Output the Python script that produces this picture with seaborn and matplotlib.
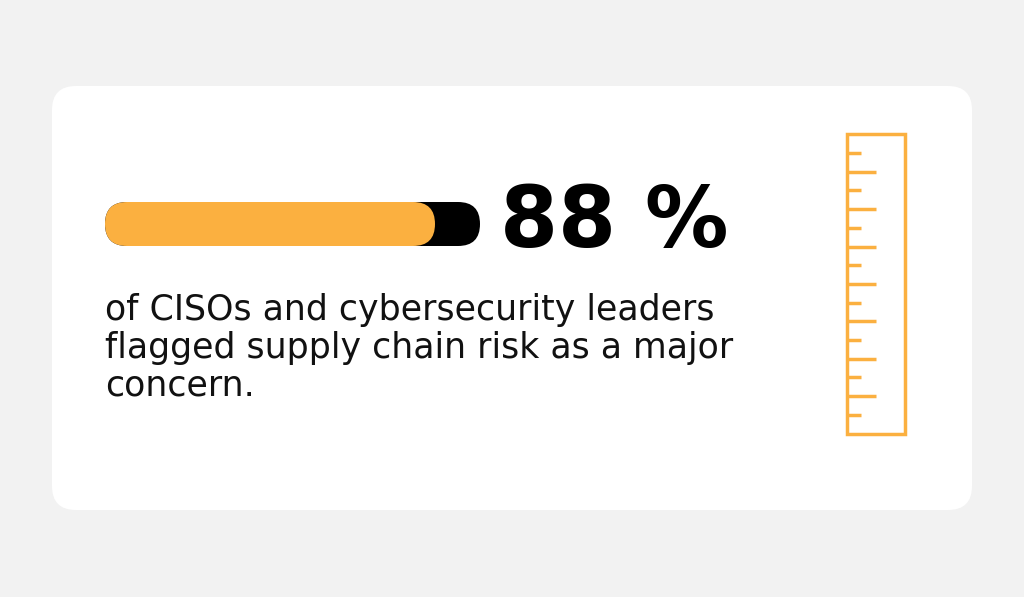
import matplotlib.pyplot as plt
import seaborn as sns
from matplotlib.patches import FancyBboxPatch, Rectangle

PERCENT = 88
HEADLINE = "88 %"
BODY_LINES = [
    "of CISOs and cybersecurity leaders",
    "flagged supply chain risk as a major",
    "concern.",
]
RULER_TICKS = list(range(15))

ORANGE = "#FBB040"
BG = "#F2F2F2"

sns.set_theme(style="white")
plt.rcParams["font.family"] = ["DejaVu Sans"]

fig = plt.figure(figsize=(10.24, 5.97), dpi=100, facecolor=BG)
ax = fig.add_axes([0, 0, 1, 1])
ax.set_xlim(0, 1024)
ax.set_ylim(597, 0)
ax.axis("off")
ax.set_facecolor(BG)

# card
ax.add_patch(FancyBboxPatch((52, 86), 920, 424, boxstyle="round,pad=0,rounding_size=24",
                            fc="white", ec="none"))

# progress bar
x0, y0, w, h = 105, 202, 375, 44
ax.add_patch(FancyBboxPatch((x0, y0), w, h, boxstyle=f"round,pad=0,rounding_size={h/2}",
                            fc="black", ec="none"))
fill = w * PERCENT / 100
ax.add_patch(FancyBboxPatch((x0, y0), fill, h, boxstyle=f"round,pad=0,rounding_size={h/2}",
                            fc=ORANGE, ec="none"))

ax.text(500, 224, HEADLINE, fontsize=60, fontweight="bold", color="black",
        va="center", ha="left")

for i, line in enumerate(BODY_LINES):
    ax.text(105, 310 + i * 38, line, fontsize=25, color="#111111", va="center",
            ha="left", fontstretch="expanded")

# ruler
ax.add_patch(Rectangle((847, 134), 58, 300, fill=False, ec=ORANGE, lw=2.5))
for i in RULER_TICKS:
    y = 153 + i * 18.7
    length = 29 if i % 2 == 1 else 14
    ax.plot([847, 847 + length], [y, y], color=ORANGE, lw=2.5, solid_capstyle="butt")

fig.savefig("out.png", dpi=100, facecolor=BG)
